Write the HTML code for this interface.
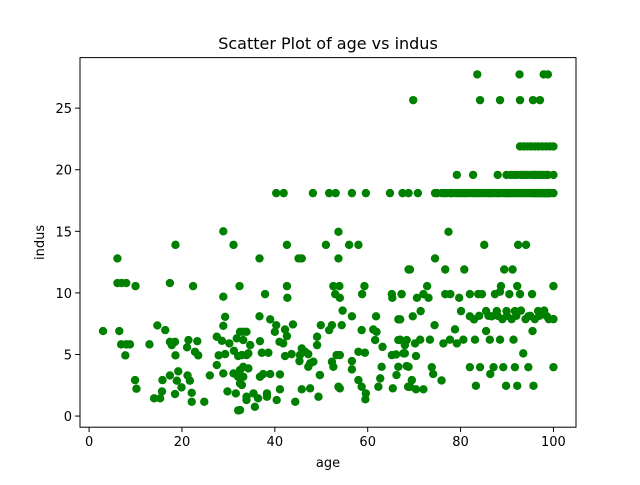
<!DOCTYPE html>
<html><head><meta charset="utf-8"><style>
html,body{margin:0;padding:0;background:#fff;}
svg text{font-family:"DejaVu Sans","Liberation Sans",sans-serif;fill:#000;}
</style></head><body>
<svg id="chart" width="640" height="480" xmlns="http://www.w3.org/2000/svg">
<rect x="0" y="0" width="640" height="480" fill="#fff"/>
<text x="328" y="49" font-size="16" text-anchor="middle">Scatter Plot of age vs indus</text>
<g id="marks"></g>
<rect x="80" y="57.6" width="496" height="369.6" fill="none" stroke="#000" stroke-width="1"/>
<g id="xticks"></g>
<g id="yticks"></g>
<text x="328" y="467" font-size="13" text-anchor="middle">age</text>
<text x="0" y="0" font-size="13" text-anchor="middle" transform="translate(44,242.4) rotate(-90)">indus</text>
</svg>
<script>
const xTicks = [0, 20, 40, 60, 80, 100];
const yTicks = [0, 5, 10, 15, 20, 25];
const rowTop = [[83.6,27.74],[92.7,27.74],[97.9,27.74],[98.8,27.74],[69.8,25.65],[84.2,25.65],[88.5,25.65],[92.8,25.65],[95.6,25.65],[97.1,25.65]];
const row2189 = [[92.8,21.89],[93.6,21.89],[94.4,21.89],[95.2,21.89],[96.0,21.89],[96.8,21.89],[97.6,21.89],[98.4,21.89],[99.2,21.89],[100,21.89]];
const row1958 = [[79.2,19.58],[82.7,19.58],[88.0,19.58],[89.9,19.58],[90.8,19.58],[91.5,19.58],[92.2,19.58],[93.0,19.58],[93.5,19.58],[94.0,19.58],[94.5,19.58],[95.3,19.58],[95.7,19.58],[96.1,19.58],[96.7,19.58],[97.3,19.58],[97.8,19.58],[98.5,19.58],[98.8,19.58],[100,19.58]];
const row181 = [[40.3,18.1],[41.9,18.1],[48.2,18.1],[51.7,18.1],[53.1,18.1],[56.6,18.1],[59.6,18.1],[64.8,18.1],[67.5,18.1],[68.8,18.1],[70.8,18.1],[74.5,18.1],
[75.0,18.1],[76.0,18.1],[76.5,18.1],[77.0,18.1],[77.8,18.1],[78.1,18.1],[78.7,18.1],[79.3,18.1],[79.9,18.1],[80.3,18.1],[80.8,18.1],[81.3,18.1],[81.8,18.1],[82.5,18.1],[83.0,18.1],[83.5,18.1],[84.0,18.1],[84.5,18.1],[85.1,18.1],[85.7,18.1],[86.1,18.1],[86.5,18.1],[87.0,18.1],[87.6,18.1],[88.0,18.1],[88.4,18.1],[89.1,18.1],[89.6,18.1],[90.0,18.1],[90.4,18.1],[90.8,18.1],[91.2,18.1],[91.6,18.1],[92.1,18.1],[92.6,18.1],[93.0,18.1],[93.6,18.1],[94.1,18.1],[94.5,18.1],[95.0,18.1],[95.4,18.1],[95.8,18.1],[96.0,18.1],[96.4,18.1],[96.7,18.1],[97.0,18.1],[97.3,18.1],[97.5,18.1],[97.9,18.1],[98.2,18.1],[98.4,18.1],[98.7,18.1],[98.9,18.1],[99.1,18.1],[99.3,18.1],[100,18.1]];
const lowLeft = [[28.9,15.0],[18.6,13.9],[31.1,13.9],[6.1,12.8],[6.1,10.8],[7.0,10.8],[8.0,10.8],[10.0,10.55],[17.4,10.8],[22.4,10.55],[32.4,10.55],[28.9,9.69],[29.3,8.06],[28.9,7.33],[3.0,6.9],[6.5,6.9],[6.9,5.82],[8.0,5.82],[8.8,5.82],[7.8,4.93],[13.0,5.82],[14.7,7.36],[16.4,6.98],[17.4,6.03],[18.5,6.03],[17.8,5.76],[18.6,4.93],[21.4,6.17],[23.3,6.08],[21.1,5.58],[22.8,5.22],[23.5,4.93],[27.5,6.44],[28.6,6.11],[30.2,5.9],[31.8,6.31],[33.2,6.84],[27.9,4.93],[29.3,5.03],[31.2,5.3],[32.1,4.87],[33.9,4.95],[9.9,2.92],[10.2,2.22],[15.8,2.92],[17.4,3.3],[19.2,3.63],[18.9,2.87],[21.2,3.3],[21.7,2.87],[19.9,2.33],[18.5,1.79],[14.0,1.44],[15.3,1.44],[15.7,2.0],[22.1,1.89],[22.1,1.16],[24.8,1.16],[26.0,3.3],[27.5,4.14],[28.9,3.46],[31.1,3.46],[32.1,3.19],[33.2,4.0],[29.8,2.0],[31.6,1.84],[32.5,2.65],[32.1,0.46],[33.9,1.3]];
const lowMid = [[53.7,14.96],[42.6,13.9],[51.0,13.9],[56.0,13.9],[58.0,13.9],[36.7,12.8],[45.1,12.8],[45.8,12.8],[53.7,12.8],[68.8,11.9],[37.9,9.9],[42.6,10.55],[42.7,9.6],[52.6,10.55],[53.9,10.55],[54.0,9.6],[53.0,9.9],[59.3,10.55],[58.8,9.9],[65.2,9.9],[67.3,9.9],[65.3,9.6],[36.7,8.1],[39.0,7.85],[40.3,7.38],[40.0,6.84],[42.2,7.03],[43.9,7.44],[42.6,6.49],[41.0,6.03],[41.8,5.9],[49.9,7.38],[52.3,7.38],[51.7,6.98],[54.4,7.38],[54.6,8.56],[56.6,8.1],[49.1,6.44],[49.1,5.76],[61.8,8.1],[66.6,7.85],[58.7,6.98],[61.2,7.03],[61.9,6.84],[61.6,6.17],[63.2,5.62],[66.6,6.17],[68.4,6.17],[68.0,5.76],[32.5,6.84],[33.9,6.84],[33.2,6.17],[34.7,5.76],[32.9,4.95],[34.3,5.09],[36.8,6.08],[37.2,5.14],[38.6,5.14],[42.2,4.87],[43.6,5.03],[45.8,5.49],[45.4,4.95],[46.5,5.22],[47.2,5.03],[45.3,4.46],[47.6,4.28],[48.3,4.41],[47.2,4.0],[49.7,3.33],[52.3,4.41],[52.6,4.0],[54.0,4.95],[53.3,4.95],[56.6,4.46],[56.6,3.79],[58.0,2.92],[58.7,2.38],[59.6,1.84],[59.5,1.36],[58.0,5.22],[59.4,5.14],[62.3,2.38],[62.7,3.06],[63.0,4.0],[65.2,4.95],[66.1,5.0],[67.7,5.09],[66.6,4.0],[68.4,4.06],[66.2,3.33],[65.4,2.25],[68.7,2.38],[32.5,3.73],[33.2,3.19],[32.9,2.52],[34.3,3.87],[32.5,0.49],[33.9,1.57],[35.4,1.84],[35.7,0.75],[36.8,3.19],[36.4,1.44],[37.5,3.41],[39.0,3.41],[38.3,1.84],[38.3,1.57],[40.4,1.3],[41.1,3.38],[41.1,2.17],[44.4,1.16],[45.8,2.17],[47.6,2.25],[49.4,1.57],[49.7,3.33],[53.7,2.38],[54.0,2.25]];
const lowRight = [[77.4,14.96],[85.1,13.9],[92.4,13.9],[94.1,13.9],[74.5,12.8],[69.1,11.9],[76.7,11.9],[80.8,11.9],[89.4,11.9],[91.2,11.9],[72.8,10.55],[100,10.55],[88.7,10.55],[92.2,10.55],[67.3,9.9],[70.6,9.6],[72.0,9.9],[73.1,9.6],[76.7,9.9],[77.8,9.9],[79.7,9.6],[82.0,9.9],[83.8,9.9],[84.6,9.9],[87.4,9.9],[90.5,9.9],[92.8,9.9],[95.4,9.9],[88.5,10.1],[67.0,7.85],[69.7,8.1],[71.4,8.52],[80.1,8.52],[82.0,8.1],[82.9,7.85],[85.5,8.52],[86.7,8.1],[87.8,8.52],[89.9,8.52],[91.7,8.52],[94.6,8.1],[96.7,8.52],[100,7.87],[98.6,8.1],[84.0,8.14],[86.0,8.14],[88.0,8.14],[89.0,7.87],[90.0,8.14],[91.0,7.87],[92.0,8.14],[93.0,8.56],[94.0,7.87],[95.0,8.14],[96.0,7.87],[97.0,8.14],[98.0,8.56],[99.0,7.87],[74.4,7.38],[78.8,7.04],[85.5,6.9],[95.5,6.9],[67.0,6.2],[68.0,5.9],[70.2,5.9],[71.3,6.2],[73.4,6.2],[76.3,5.9],[77.7,6.2],[79.2,5.9],[80.6,6.2],[83.1,6.2],[86.3,6.2],[88.5,6.2],[91.4,6.2],[68.0,5.09],[70.4,4.87],[93.5,5.09],[68.8,4.0],[73.8,3.97],[74.1,3.41],[75.9,2.89],[82.0,3.97],[84.2,3.97],[86.4,3.41],[87.1,3.97],[89.2,3.97],[91.7,3.97],[94.6,3.97],[100,3.97],[69.5,2.92],[69.1,2.38],[70.4,2.17],[72.0,2.17],[83.3,2.46],[89.8,2.46],[92.2,2.46],[95.7,2.46]];

const X0 = 80, X1 = 576, Y0 = 427.2, Y1 = 57.6;
const xMin = -1.96, xMax = 104.86, yMin = -0.904, yMax = 29.104;
function xs(v){ return X0 + (v - xMin) / (xMax - xMin) * (X1 - X0); }
function ys(v){ return Y0 - (v - yMin) / (yMax - yMin) * (Y0 - Y1); }
const NS = "http://www.w3.org/2000/svg";
const marks = document.getElementById("marks");
[rowTop, row2189, row1958, row181, lowLeft, lowMid, lowRight].forEach(function(group){
  group.forEach(function(p){
    const c = document.createElementNS(NS, "circle");
    c.setAttribute("cx", xs(p[0]));
    c.setAttribute("cy", ys(p[1]));
    c.setAttribute("r", 4.2);
    c.setAttribute("fill", "#008000");
    
    
    marks.appendChild(c);
  });
});
const xg = document.getElementById("xticks");
xTicks.forEach(function(t){
  const l = document.createElementNS(NS, "line");
  l.setAttribute("x1", xs(t)); l.setAttribute("x2", xs(t));
  l.setAttribute("y1", Y0); l.setAttribute("y2", Y0 + 4.9);
  l.setAttribute("stroke", "#000");
  
  
  xg.appendChild(l);
  const tx = document.createElementNS(NS, "text");
  tx.setAttribute("x", xs(t)); tx.setAttribute("y", Y0 + 19);
  tx.setAttribute("font-size", "13"); tx.setAttribute("text-anchor", "middle");
  tx.textContent = t;
  
  
  xg.appendChild(tx);
});
const yg = document.getElementById("yticks");
yTicks.forEach(function(t){
  const l = document.createElementNS(NS, "line");
  l.setAttribute("x1", X0 - 4.9); l.setAttribute("x2", X0);
  l.setAttribute("y1", ys(t)); l.setAttribute("y2", ys(t));
  l.setAttribute("stroke", "#000");
  
  
  yg.appendChild(l);
  const tx = document.createElementNS(NS, "text");
  tx.setAttribute("x", X0 - 8); tx.setAttribute("y", ys(t) + 5);
  tx.setAttribute("font-size", "13"); tx.setAttribute("text-anchor", "end");
  tx.textContent = t;
  
  
  yg.appendChild(tx);
});
</script>
</body></html>
